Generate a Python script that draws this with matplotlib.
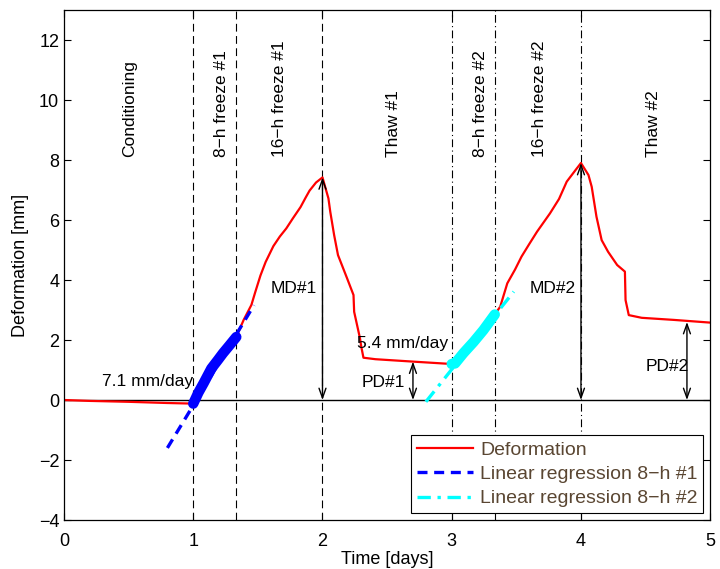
import numpy as np
import matplotlib
matplotlib.use("Agg")
import matplotlib.pyplot as plt

plt.rcParams['font.family'] = ['Liberation Sans', 'DejaVu Sans']

#### Datos: deformación medida (tiempo en días, deformación en mm)
t = [0.0, 0.2, 0.5, 0.8, 1.0, 1.04, 1.08, 1.14, 1.19, 1.23, 1.28, 1.333,
     1.39, 1.45, 1.48, 1.52, 1.56, 1.62, 1.67, 1.72, 1.77, 1.83, 1.87, 1.90, 1.95, 2.0,
     2.046, 2.06, 2.09, 2.12, 2.19, 2.24, 2.245, 2.29, 2.30, 2.317, 2.41, 2.70, 3.0,
     3.026, 3.09, 3.17, 3.245, 3.333,
     3.375, 3.43, 3.49, 3.54, 3.60, 3.66, 3.76, 3.83, 3.89, 3.95, 4.0,
     4.058, 4.083, 4.12, 4.16, 4.21, 4.28, 4.34, 4.345, 4.37, 4.47, 4.72, 5.0]
d = [0.0, -0.03, -0.06, -0.1, -0.12, 0.25, 0.56, 1.05, 1.33, 1.56, 1.82, 2.1,
     2.67, 3.17, 3.6, 4.15, 4.6, 5.13, 5.45, 5.72, 6.05, 6.43, 6.75, 6.98, 7.25, 7.42,
     6.72, 6.28, 5.5, 4.83, 4.06, 3.5, 2.94, 2.06, 1.78, 1.41, 1.36, 1.28, 1.2,
     1.22, 1.56, 1.94, 2.33, 2.85,
     3.11, 3.89, 4.35, 4.78, 5.2, 5.61, 6.22, 6.7, 7.28, 7.62, 7.9,
     7.5, 7.11, 6.11, 5.33, 4.94, 4.5, 4.28, 3.33, 2.83, 2.74, 2.67, 2.58]

# Regresiones lineales de los periodos de 8 h
slope1 = 7.1 ; x1_reg = [0.8, 1.47] ; y1_ref = (1.463, 3.11)
slope2 = 5.4 ; x2_reg = [2.8, 3.48] ; y2_ref = (2.8, -0.06)

# Límites de fases
fases1 = [1.0, 4/3, 2.0]
fases2 = [3.0, 3 + 1/3, 4.0]
fases_txt = ["Conditioning", "8\u2212h freeze #1", "16\u2212h freeze #1", "Thaw #1",
             "8\u2212h freeze #2", "16\u2212h freeze #2", "Thaw #2"]
fases_x = [0.51, 1.22, 1.67, 2.55, 3.22, 3.68, 4.56]

# Deformación máxima (MD) y permanente (PD)
md_t = [2.0, 4.0] ; md_v = [7.42, 7.9]
pd_t = [2.7, 4.82] ; pd_v = [1.28, 2.6]

t = np.array(t) ; d = np.array(d)
cian = '#00ffff'

fig = plt.figure(figsize=(7.2, 5.69), dpi=100)
ax = fig.add_axes([0.0889, 0.0861, 0.8975, 0.8963])

fs = 13

for x in fases1:
    ax.axvline(x, color='k', ls=(0, (7, 4)), lw=0.8)
for x in fases2:
    ax.axvline(x, color='k', ls=(0, (7, 3, 1, 3)), lw=0.8)
ax.axhline(0, color='k', lw=1)

ax.plot(t, d, 'r-', lw=1.6, label='Deformation')

# puntos de los periodos de 8 h
m1 = (t >= 1.0) & (t <= 1.334)
m2 = (t >= 3.0) & (t <= 3.334)
ax.plot(t[m1], d[m1], color='b', lw=7.5, solid_capstyle='round', solid_joinstyle='round')
ax.plot(t[m2], d[m2], color=cian, lw=7.5, solid_capstyle='round', solid_joinstyle='round')

xr = np.array(x1_reg)
ax.plot(xr, slope1*(xr - y1_ref[0]) + y1_ref[1], color='b', ls=(0, (3, 2)), lw=2.4,
        label='Linear regression 8\u2212h #1')
xr = np.array(x2_reg)
ax.plot(xr, slope2*(xr - y2_ref[0]) + y2_ref[1], color=cian, ls=(0, (4, 2, 1, 2)), lw=2.4,
        label='Linear regression 8\u2212h #2')

ax.text(0.65, 0.62, "%.1f mm/day" % slope1, fontsize=fs-0.5, ha='center', va='center')
ax.text(2.62, 1.88, "%.1f mm/day" % slope2, fontsize=fs-0.5, ha='center', va='center')

flecha = dict(arrowstyle='<->,head_length=0.7,head_width=0.25', color='k', lw=1,
              shrinkA=0, shrinkB=0)
for i, (x, v) in enumerate(zip(md_t, md_v)):
    ax.annotate('', xy=(x, v), xytext=(x, 0), arrowprops=flecha)
    ax.text(x - 0.22, 3.73, "MD#%d" % (i + 1), fontsize=fs-0.5, ha='center', va='center')
for i, (x, v) in enumerate(zip(pd_t, pd_v)):
    ax.annotate('', xy=(x, v), xytext=(x, 0), arrowprops=flecha)
pd_lbl = [(2.47, 0.6), (4.67, 1.13)]
for i, (x, y) in enumerate(pd_lbl):
    ax.text(x, y, "PD#%d" % (i + 1), fontsize=fs-0.5, ha='center', va='center')

for x, s in zip(fases_x, fases_txt):
    ax.text(x, 8.1, s, rotation=90, fontsize=fs-0.5, ha='center', va='bottom')

ax.set_xlim(0, 5)
ax.set_ylim(-4, 13)
ax.set_xticks(range(0, 6))
ax.set_yticks(range(-4, 13, 2))
ax.set_yticklabels([("\u2212%d" % -v) if v < 0 else str(v) for v in range(-4, 13, 2)])
ax.tick_params(direction='in', top=True, right=True, labelsize=fs, length=5, width=0.8)
ax.tick_params(axis='x', pad=9)
for s in ax.spines.values():
    s.set_linewidth(0.9)
ax.set_xlabel("Time [days]", fontsize=fs, labelpad=1)
ax.set_ylabel("Deformation [mm]", fontsize=fs, labelpad=7)

leg = ax.legend(loc='lower right', fontsize=fs+1, fancybox=False, framealpha=1,
                edgecolor='k', borderpad=0.3, handlelength=2.9, handletextpad=0.35,
                labelspacing=0.35, borderaxespad=0.35)
leg.get_frame().set_linewidth(0.8)
for txt in leg.get_texts():
    txt.set_color('#5a4632')

fig.savefig("out.png", dpi=100)
